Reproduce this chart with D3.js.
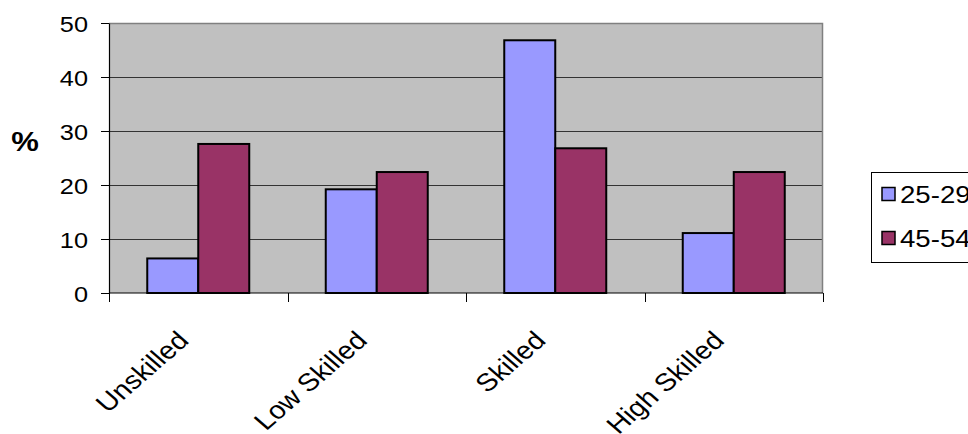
<!DOCTYPE html>
<html>
<head>
<meta charset="utf-8">
<script src="https://cdn.jsdelivr.net/npm/d3@7"></script>
<style>
  html, body { margin: 0; padding: 0; background: #fff; }
  svg { display: block; font-family: "Liberation Sans", Arial, sans-serif; }
</style>
</head>
<body>
<svg id="chart" width="968" height="434"></svg>
<script>
// Share of workers by skill level, two age groups (%)
const categories = ["Unskilled", "Low Skilled", "Skilled", "High Skilled"];
const seriesNames = ["25-29", "45-54"];
const values2529 = [6.4, 19.2, 46.8, 11.1];
const values4554 = [27.6, 22.4, 26.8, 22.4];
const yTicks = [0, 10, 20, 30, 40, 50];
const seriesColors = ["#9999FF", "#993366"];

const seriesValues = [values2529, values4554];
const svg = d3.select("#chart");
const textStretch = 1.15;

const plot = { left: 109, right: 823, top: 23, bottom: 293 };

const x = d3.scaleBand().domain(categories).range([plot.left, plot.right]).padding(0);
const xInner = d3.scaleBand().domain(seriesNames).range([0, x.bandwidth()])
  .paddingInner(0).paddingOuter(0.75);
const y = d3.scaleLinear().domain([0, 50]).range([plot.bottom, plot.top]);

// plot background
svg.append("rect")
  .attr("x", plot.left).attr("y", plot.top)
  .attr("width", plot.right - plot.left).attr("height", plot.bottom - plot.top)
  .attr("fill", "#C0C0C0");

// horizontal gridlines
svg.append("g").selectAll("line")
  .data(yTicks.filter(t => t > 0 && t < 50))
  .join("line")
  .attr("x1", plot.left).attr("x2", plot.right)
  .attr("y1", d => Math.round(y(d)) + 0.5).attr("y2", d => Math.round(y(d)) + 0.5)
  .attr("stroke", "#333").attr("stroke-width", 1.2);

// top and right frame of plot area
svg.append("path")
  .attr("d", `M${plot.left},${plot.top + 0.5}H${plot.right - 0.5}V${plot.bottom}`)
  .attr("fill", "none").attr("stroke", "#808080").attr("stroke-width", 1.5);

// bars
const groups = svg.append("g").selectAll("g")
  .data(categories)
  .join("g")
  .attr("transform", d => `translate(${x(d)},0)`);

groups.selectAll("rect")
  .data((c, i) => seriesNames.map((s, k) => ({ s, k, v: seriesValues[k][i] })))
  .join("rect")
  .attr("x", d => xInner(d.s))
  .attr("y", d => y(d.v))
  .attr("width", xInner.bandwidth())
  .attr("height", d => y(0) - y(d.v))
  .attr("fill", d => seriesColors[d.k])
  .attr("stroke", "#000").attr("stroke-width", 2);

// y axis
const yAxis = svg.append("g")
  .attr("transform", `translate(${plot.left},0)`)
  .call(d3.axisLeft(y).tickValues(yTicks).tickSize(8).tickPadding(12).tickSizeOuter(0));
yAxis.select(".domain").attr("stroke", "#000").attr("stroke-width", 1.2);
yAxis.selectAll(".tick line").attr("stroke", "#000");
yAxis.selectAll(".tick text")
  .attr("font-size", 22).attr("fill", "#000")
  .attr("font-family", "Liberation Sans, Arial, sans-serif")
  .attr("x", null).attr("dy", null)
  .attr("dominant-baseline", "central")
  .attr("text-anchor", "end")
  .attr("transform", `translate(-21,1) scale(${textStretch},1)`);

// x axis with ticks at category boundaries
const boundaries = categories.map(c => x(c)).concat([plot.right]);
svg.append("line")
  .attr("x1", plot.left).attr("x2", plot.right)
  .attr("y1", plot.bottom).attr("y2", plot.bottom)
  .attr("stroke", "#000").attr("stroke-width", 1.2);
svg.append("g").selectAll("line")
  .data(boundaries)
  .join("line")
  .attr("x1", d => Math.round(d) + 0.5).attr("x2", d => Math.round(d) + 0.5)
  .attr("y1", plot.bottom).attr("y2", plot.bottom + 9)
  .attr("stroke", "#000");

// rotated category labels
svg.append("g").selectAll("text")
  .data(categories)
  .join("text")
  .attr("transform", d => `translate(${x(d) + x.bandwidth() / 2 - 8},${plot.bottom + 49}) scale(${textStretch},1) rotate(-45)`)
  .attr("text-anchor", "end")
  .attr("font-size", 25)
  .attr("fill", "#000")
  .text(d => d);

// axis title
svg.append("text")
  .attr("transform", `translate(25,142) scale(${textStretch},1)`)
  .attr("text-anchor", "middle")
  .attr("dominant-baseline", "central")
  .attr("font-size", 27).attr("font-weight", "bold")
  .text("%");

// legend
const legend = svg.append("g").attr("transform", "translate(871,172)");
legend.append("rect")
  .attr("x", 0.5).attr("y", 0.5).attr("width", 120).attr("height", 90)
  .attr("fill", "#fff").attr("stroke", "#000").attr("stroke-width", 1);
const rows = legend.selectAll("g.row")
  .data(seriesNames)
  .join("g").attr("class", "row")
  .attr("transform", (d, i) => `translate(0,${22 + i * 44})`);
rows.append("rect")
  .attr("x", 11).attr("y", -6.5).attr("width", 13).attr("height", 13)
  .attr("fill", (d, i) => seriesColors[i])
  .attr("stroke", "#000").attr("stroke-width", 1.5);
rows.append("text")
  .attr("transform", `translate(29,1) scale(${textStretch},1)`)
  .attr("dominant-baseline", "central")
  .attr("font-size", 24).attr("fill", "#000")
  .text(d => d);
</script>
</body>
</html>
